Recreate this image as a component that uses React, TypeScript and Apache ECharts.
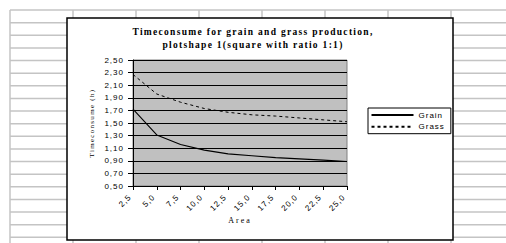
import React, { useEffect, useRef } from "react";
import * as echarts from "echarts";

// ---- data ----
const areaCategories = [2.5, 5.0, 7.5, 10.0, 12.5, 15.0, 17.5, 20.0, 22.5, 25.0];
const grainValues = [1.72, 1.31, 1.16, 1.07, 1.01, 0.98, 0.95, 0.93, 0.91, 0.89];
const grassValues = [2.27, 1.96, 1.83, 1.73, 1.67, 1.63, 1.61, 1.58, 1.55, 1.52];
const seriesNames = ["Grain", "Grass"];
const yMin = 0.5;
const yMax = 2.5;
const yStep = 0.2;
const titleLines = [
  "Timeconsume for grain and grass production,",
  "plotshape 1(square with ratio 1:1)",
];
const xAxisName = "Area";
const yAxisName = "Timeconsume (h)";

const fmt = (v: number, d: number) => v.toFixed(d).replace(".", ",");

export default function App() {
  const ref = useRef<HTMLDivElement>(null);

  useEffect(() => {
    const el = ref.current!;
    const chart = echarts.init(el, undefined, { renderer: "svg" });

    // spreadsheet backdrop (decoration)
    const sheet: any[] = [];
    for (let k = 0; k < 19; k++) {
      const y = 10 + k * 12.63;
      sheet.push({
        type: "line",
        silent: true,
        z: -20,
        shape: { x1: 10, y1: y, x2: 506, y2: y },
        style: { stroke: "#c4c4c4", lineWidth: 1.5 },
      });
    }
    for (let k = 0; k < 8; k++) {
      const x = 10 + k * 63;
      sheet.push({
        type: "line",
        silent: true,
        z: -20,
        shape: { x1: x, y1: 10, x2: x, y2: 243 },
        style: { stroke: "#c4c4c4", lineWidth: 1.5 },
      });
    }
    sheet.push({
      type: "rect",
      silent: true,
      z: -10,
      shape: { x: 67, y: 18, width: 386, height: 222 },
      style: { fill: "#ffffff", stroke: "#000000", lineWidth: 1.5 },
    });

    const sans = "'Liberation Sans', Arial, sans-serif";
    const serif = "'Liberation Serif', 'Times New Roman', serif";

    chart.setOption({
      animation: false,
      backgroundColor: "#ffffff",
      graphic: { elements: sheet },
      title: {
        text: titleLines.join("\n"),
        left: "center",
        top: 20,
        padding: [5, 0, 5, 13],
        textStyle: {
          fontFamily: serif,
          fontWeight: "bold",
          fontSize: 9.5,
          lineHeight: 13,
          color: "#000",
        },
      },
      legend: {
        orient: "vertical",
        left: 368,
        top: 108,
        itemWidth: 42,
        itemHeight: 10,
        itemGap: 3.7,
        padding: [3, 11, 3, 2.5],
        borderColor: "#000",
        borderWidth: 1,
        backgroundColor: "#fff",
        itemStyle: { opacity: 0 },
        textStyle: { fontFamily: sans, fontSize: 8, color: "#000" },
        data: seriesNames,
      },
      grid: {
        left: 133,
        top: 60,
        width: 214,
        height: 126,
        show: true,
        backgroundColor: "#c0c0c0",
        borderColor: "#808080",
        borderWidth: 1,
      },
      xAxis: {
        type: "category",
        data: areaCategories,
        boundaryGap: false,
        name: xAxisName,
        nameLocation: "middle",
        nameGap: 28,
        nameTextStyle: { fontFamily: serif, fontSize: 8, color: "#000" },
        axisLine: { lineStyle: { color: "#000", width: 1 } },
        axisTick: { length: 4, lineStyle: { color: "#000" } },
        axisLabel: {
          rotate: 45,
          margin: 7,
          padding: [0, 4, 0, 0],
          fontFamily: sans,
          fontSize: 8,
          color: "#000",
          formatter: (v: any) => fmt(Number(v), 1),
        },
        splitLine: { show: false },
      },
      yAxis: {
        type: "value",
        min: yMin,
        max: yMax,
        interval: yStep,
        name: yAxisName,
        nameLocation: "middle",
        nameGap: 38,
        nameTextStyle: { fontFamily: serif, fontSize: 7, color: "#000" },
        axisLine: { show: true, lineStyle: { color: "#000", width: 1 } },
        axisTick: { show: true, length: 5, lineStyle: { color: "#000" } },
        axisLabel: {
          margin: 9,
          fontFamily: sans,
          fontSize: 8,
          color: "#000",
          formatter: (v: number) => fmt(v, 2),
        },
        splitLine: { show: true, lineStyle: { color: "#000", width: 1 } },
      },
      series: [
        {
          name: seriesNames[0],
          type: "line",
          data: grainValues,
          symbol: "none",
          lineStyle: { color: "#000", width: 1.1 },
          itemStyle: { color: "#000" },
        },
        {
          name: seriesNames[1],
          type: "line",
          data: grassValues,
          symbol: "none",
          lineStyle: { color: "#000", width: 1, type: [3, 3] },
          itemStyle: { color: "#000" },
        },
      ],
    });

    // widen letter spacing like the reference's scaled Excel text
    const applySpacing = () => {
      el.querySelectorAll("text").forEach((t) => {
        const s = (t.textContent || "").trim();
        let ls = 0;
        if (titleLines.some((l) => s.startsWith(l.slice(0, 10)))) ls = 1.3;
        else if (s === xAxisName) ls = 2;
        else if (seriesNames.includes(s)) ls = 1;
        else if (/^\d+,\d+$/.test(s)) ls = 1;
        if (ls) (t as SVGTextElement).style.letterSpacing = ls + "px";
      });
    };
    applySpacing();
    chart.on("finished", applySpacing);
    const raf = requestAnimationFrame(applySpacing);

    return () => {
      cancelAnimationFrame(raf);
      chart.dispose();
    };
  }, []);

  return (
    <div
      ref={ref}
      style={{ position: "fixed", left: 0, top: 0, width: 506, height: 243 }}
    />
  );
}
